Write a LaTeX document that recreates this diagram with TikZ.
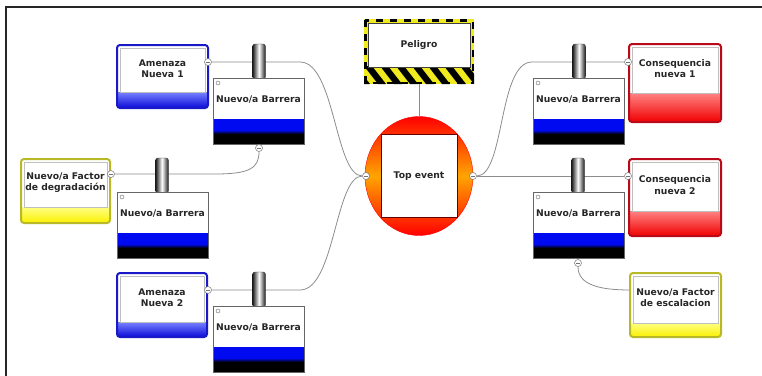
\documentclass[tikz,border=0pt]{standalone}
\usepackage{fontspec}
\setmainfont{DejaVu Sans}
\usetikzlibrary{shapes.geometric}
\pgfdeclarelayer{bg}
\pgfsetlayers{bg,main}
\definecolor{threatB}{RGB}{25,25,200}
\definecolor{threatT}{RGB}{120,130,255}
\definecolor{threatD}{RGB}{10,10,215}
\definecolor{consB}{RGB}{185,10,25}
\definecolor{consT}{RGB}{255,130,130}
\definecolor{consD}{RGB}{240,0,0}
\definecolor{factB}{RGB}{185,185,40}
\definecolor{factT}{RGB}{255,255,130}
\definecolor{factD}{RGB}{250,240,0}
\definecolor{barblue}{RGB}{0,10,240}
\definecolor{hazY}{RGB}{240,235,30}
\definecolor{teOr}{RGB}{255,165,0}
\tikzset{
  boxtext/.style={font=\fontsize{9.2}{11.2}\selectfont\bfseries, text=black!85, align=center, inner sep=0pt},
  conn/.style={draw=black!45, line width=0.8pt},
  dot/.style={circle, draw=black!55, fill=white, inner sep=0pt, minimum size=7pt, line width=0.5pt,
    path picture={\draw[black!55, line width=0.6pt] ([xshift=-2pt]path picture bounding box.center) -- ([xshift=2pt]path picture bounding box.center);}}
}
\newcommand\riskbox[8]{%
  \begin{scope}
    \clip[rounded corners=3pt] (#2,#3) rectangle ++(#4,#5);
    \fill[white] (#2,#3) rectangle ++(#4,#5);
    \shade[top color=#7T, bottom color=#7D] (#2,#3+#5-#6) rectangle ++(#4,#6);
  \end{scope}
  \draw[black!25, line width=0.5pt] (#2+3,#3+3) rectangle (#2+#4-3,#3+#5-#6);
  \draw[#7B, line width=2pt, rounded corners=3pt] (#2,#3) rectangle ++(#4,#5);
  \node[boxtext] (#1) at (#2+#4/2,#3+#5/2-#6/2) {#8};
}
\newcommand\barrier[4]{%
  \shade[left color=black!90, right color=black!90, middle color=white, rounded corners=2.5pt] (#2+#4-6.5,#3-34) rectangle (#2+#4+6.5,#3+1);
  \draw[black!80, line width=0.4pt, rounded corners=2.5pt] (#2+#4-6.5,#3-34) rectangle (#2+#4+6.5,#3+1);
  \fill[white] (#2,#3) rectangle ++(91,41);
  \fill[barblue] (#2,#3+41) rectangle ++(91,11);
  \shade[top color=barblue, bottom color=black] (#2,#3+52) rectangle ++(91,4);
  \fill[black] (#2,#3+56) rectangle ++(91,10);
  \draw[black!60, line width=0.5pt] (#2,#3) rectangle ++(91,66);
  \draw[black!60, line width=0.4pt] (#2+5,#3+5) circle (2);
  \node[boxtext] (#1) at (#2+45.5,#3+22) {Nuevo/a Barrera};
}
\begin{document}
\begin{tikzpicture}[x=1pt,y=-1pt]
\useasboundingbox (0,0) rectangle (762,375);
\draw[line width=1.4pt, black!85] (6,376) -- (6,7) -- (763,7);

% threats, factors, consequences
\riskbox{am1}{117}{45}{91}{63}{16}{threat}{Amenaza\\Nueva 1}
\riskbox{am2}{117}{273}{90}{64}{15}{threat}{Amenaza\\Nueva 2}
\riskbox{fdeg}{21}{159}{89}{64}{16}{fact}{Nuevo/a Factor\\de degradación}
\riskbox{cons1}{629}{44}{92}{78}{29}{cons}{Consequencia\\nueva 1}
\riskbox{cons2}{629}{159}{92}{77}{25}{cons}{Consequencia\\nueva 2}
\riskbox{fesc}{630}{273}{91}{64}{14}{fact}{Nuevo/a Factor\\de escalacion}
\coordinate (escin) at (630,290);

% barriers
\barrier{b1}{213}{78}{46}
\barrier{b2}{117}{192}{45}
\barrier{b3}{213}{306}{46}
\barrier{b4}{533}{78}{46}
\barrier{b5}{533}{192}{45}

% hazard
\node[minimum width=110pt, minimum height=65pt, inner sep=0pt] (hazard) at (419,51.5) {};
\fill[hazY] (364,19) rectangle (474,84);
\begin{scope}
  \clip (364,66) rectangle (474,84);
  \foreach \i in {0,...,8} \fill[black] (348+\i*16,66) -- ++(8,0) -- ++(14,18) -- ++(-8,0) -- cycle;
\end{scope}
\draw[black, line width=2.5pt, dash pattern=on 7pt off 7pt] (365.25,20.25) rectangle (472.75,82.75);
\node[draw=black!75, fill=white, minimum width=102pt, minimum height=44pt, boxtext] (peligro) at (419,45) {Peligro};

% top event
\node[ellipse, minimum width=108pt, minimum height=119pt, draw=red, top color=red, bottom color=red, middle color=teOr] (te) at (419,176) {};
\node[draw=black!60!red, fill=white, minimum width=76pt, minimum height=83pt, boxtext] (tetext) at (419,176) {Top event};

% connection dots
\node[dot] (dam1) at (208,62) {};
\node[dot] (dam2) at (208,290) {};
\node[dot] (dfd) at (111,174) {};
\node[dot] (db1) at (259,148) {};
\node[dot] (dtel) at (366,176) {};
\node[dot] (dter) at (473,176) {};
\node[dot] (dc1) at (628,62) {};
\node[dot] (dc2) at (628,176) {};
\node[dot] (db5) at (578,263) {};

% connectors
\begin{pgfonlayer}{bg}
\draw[conn] (dam1) -- (300,62) .. controls (335,62) and (335,176) .. (dtel);
\draw[conn] (dam2) -- (300,290) .. controls (335,290) and (335,176) .. (dtel);
\draw[conn] (dfd) -- (215,174) .. controls (250,174) and (259,168) .. (db1);
\draw[conn] (dter) .. controls (505,176) and (498,62) .. (532,62) -- (dc1);
\draw[conn] (dter) -- (dc2);
\draw[conn] (db5) .. controls (578,285) and (600,290) .. (escin);
\draw[conn] (hazard.south) -- (te.north);
\end{pgfonlayer}
\end{tikzpicture}
\end{document}
